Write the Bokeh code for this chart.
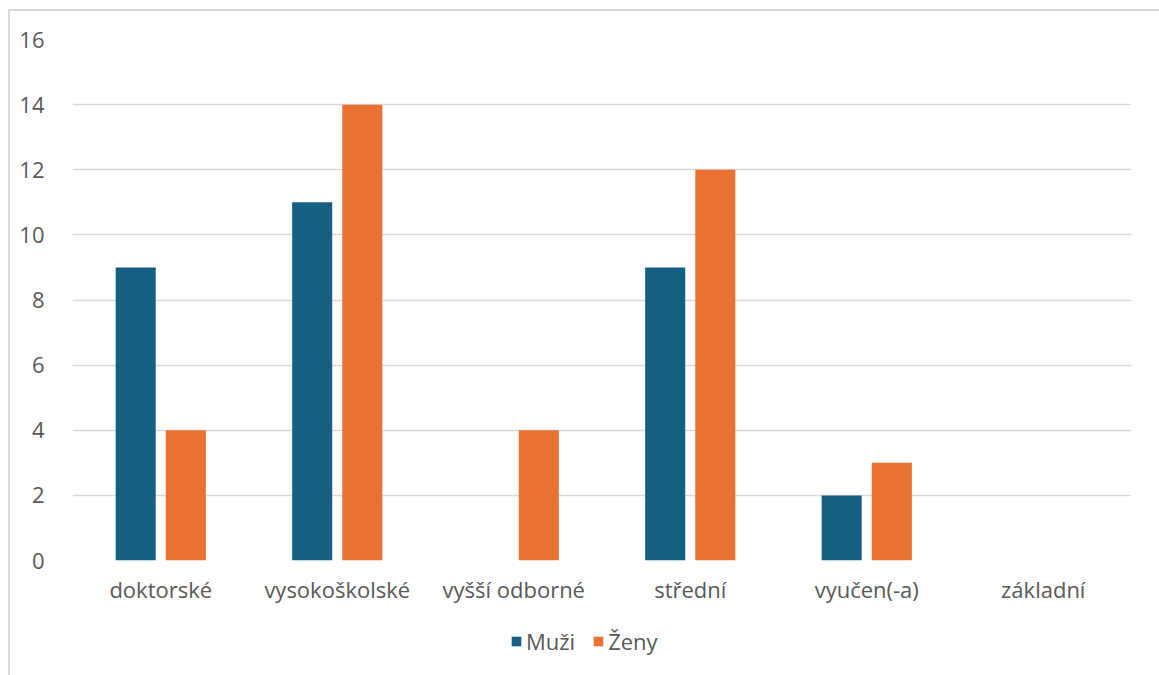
from bokeh.plotting import figure
from bokeh.models import ColumnDataSource, FactorRange, Legend, LegendItem, FixedTicker
from bokeh.layouts import column
from bokeh.transform import dodge
from bokeh.embed import file_html
from bokeh.resources import INLINE

categories = ["doktorské", "vysokoškolské", "vyšší odborné", "střední", "vyučen(-a)", "základní"]
muzi = [9, 11, 0, 9, 2, 0]
zeny = [4, 14, 4, 12, 3, 0]
y_ticks = [0, 2, 4, 6, 8, 10, 12, 14, 16]
series_names = ["Muži", "Ženy"]
series_colors = ["#156082", "#E97132"]

FONT = "Open Sans"
TXT = "#595959"
FS = "22px"

src = ColumnDataSource(dict(cat=categories, muzi=muzi, zeny=zeny))

p = figure(x_range=FactorRange(*categories, range_padding=0), y_range=(0, 16),
           width=1149, height=601, output_backend="svg", toolbar_location=None,
           min_border_left=62, min_border_right=28, min_border_top=28, min_border_bottom=52)
p.outline_line_color = None

p.vbar(x=dodge("cat", -0.142, range=p.x_range), top="muzi", width=0.227, source=src,
       fill_color=series_colors[0], line_color=None)
p.vbar(x=dodge("cat", 0.142, range=p.x_range), top="zeny", width=0.227, source=src,
       fill_color=series_colors[1], line_color=None)

p.xgrid.grid_line_color = None
p.ygrid.grid_line_color = "#d9d9d9"
p.ygrid.grid_line_width = 1.3
p.yaxis.ticker = FixedTicker(ticks=y_ticks)

for ax in (p.xaxis[0], p.yaxis[0]):
    ax.axis_line_color = None
    ax.major_tick_line_color = None
    ax.minor_tick_line_color = None
    ax.major_label_text_color = TXT
    ax.major_label_text_font = FONT
    ax.major_label_text_font_size = FS
p.yaxis.major_label_standoff = 22
p.xaxis.major_label_standoff = 7

# legend strip (legend-only swatch renderers of zero height)
lg = figure(width=1149, height=63, output_backend="svg", toolbar_location=None,
            x_range=(0, 1), y_range=(0, 1),
            min_border_left=0, min_border_right=0, min_border_top=0, min_border_bottom=0)
lg.axis.visible = False
lg.grid.visible = False
lg.outline_line_color = None
items = []
for name, col in zip(series_names, series_colors):
    r = lg.vbar(x=[0.5], top=[0], bottom=[0], width=0.01, fill_color=col, line_color=None)
    items.append(LegendItem(label=name, renderers=[r]))
legend = Legend(items=items, orientation="horizontal", location=(438, 19),
                glyph_width=12, glyph_height=12, label_standoff=4, spacing=17,
                label_text_font=FONT, label_text_font_size=FS, label_text_color=TXT,
                border_line_color=None, background_fill_alpha=0, padding=0, margin=0)
lg.add_layout(legend, "center")

layout = column(p, lg, spacing=0, margin=(9, 0, 0, 8),
                styles={"border-top": "2px solid #d9d9d9", "border-left": "2px solid #d9d9d9"})

open("out.html", "w").write(file_html(layout, INLINE))
